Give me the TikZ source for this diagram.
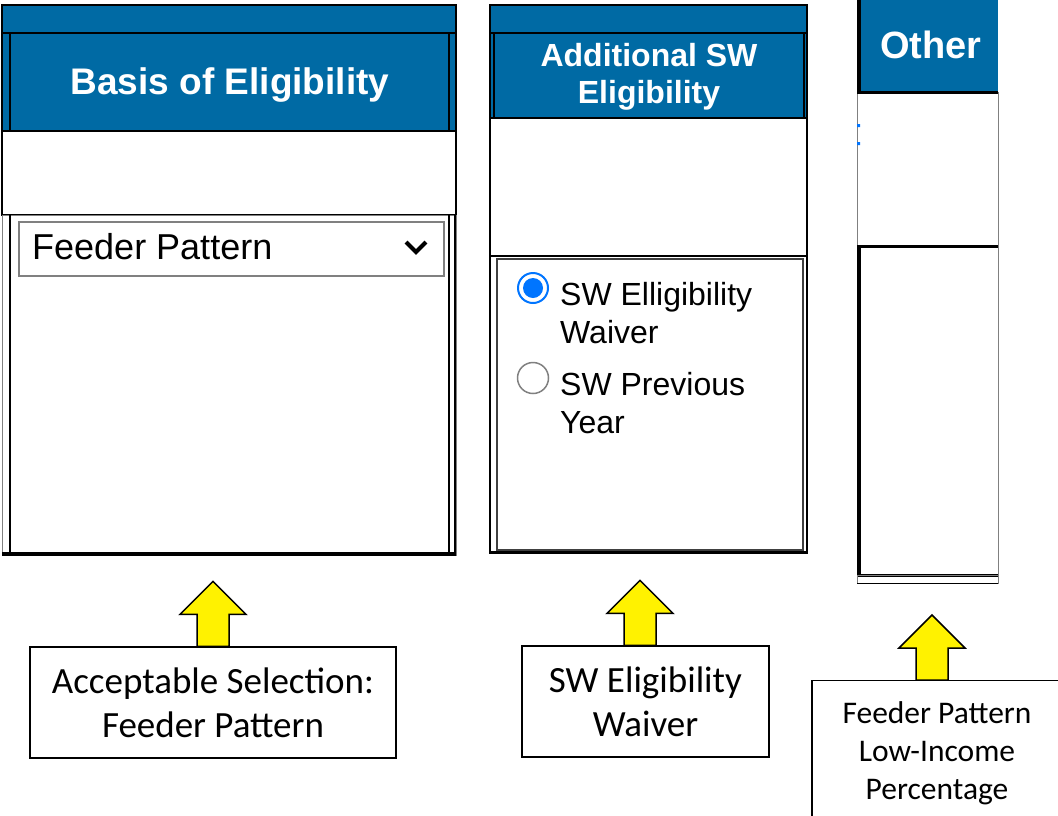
\documentclass[tikz,border=0pt]{standalone}
\usepackage{fontspec}
\setmainfont{Liberation Sans}
\newfontfamily\calibri{Carlito}
\usepackage{tikz}
\usepackage{xcolor}
\definecolor{hdrblue}{RGB}{0,106,164}
\definecolor{radioblue}{RGB}{0,117,255}
\tikzset{
    hdr-cell/.style = {fill=hdrblue, draw=black, line width=2pt},
    body-cell/.style = {fill=white, draw=black, line width=1.5pt},
    hdr-text/.style = {text=white, font=\bfseries\fontsize{37}{40}\selectfont, inner sep=0pt},
    field-text/.style = {font=\fontsize{32}{38}\selectfont, inner sep=0pt, align=left},
    caption-box/.style = {draw, fill=white, line width=1.2pt, inner sep=0pt, align=center, font=\calibri\fontsize{37}{44}\selectfont},
    up-arrow/.pic = {\draw[fill=yellow, draw=black, line width=1.5pt] (0,0) -- (-16,0) -- (-16,-32) -- (-33,-32) -- (0,-65) -- (33,-32) -- (16,-32) -- (16,0) -- cycle;},
}
\begin{document}
\begin{tikzpicture}[x=1pt, y=-1pt]
\useasboundingbox (0,0) rectangle (1058,815);
\clip (0,0) rectangle (1058,815);
\fill[white] (0,0) rectangle (1058,815);

% basis of eligibility column
\draw[hdr-cell] (2,5) rectangle (456,33);
\draw[hdr-cell] (2,33) rectangle (456,131);
\draw[line width=1.5pt] (10,33) -- (10,131) (449,33) -- (449,131);
\draw[body-cell] (2,131) rectangle (456,215);
\draw[body-cell, draw=gray, line width=1pt] (2,215) rectangle (456,555);
\draw[line width=2pt] (10,215) -- (10,553) (449,215) -- (449,553) (455,215) -- (455,553);
\draw[line width=3.5pt] (2,554) -- (456,554);
\node[hdr-text, anchor=base] (basis) at (230,94) {Basis of Eligibility};
\node[draw=gray, line width=2pt, fill=white, anchor=north west, inner sep=0pt, minimum width=425, minimum height=54] (drop) at (18,221) {};
\node[font=\fontsize{36}{40}\selectfont, anchor=base west, inner sep=0pt] (feeder) at (32,259) {Feeder Pattern};
\draw[line width=4pt] (406,242) -- (416,252) -- (426,242);

% additional sw column
\draw[hdr-cell] (490,5) rectangle (807,33);
\draw[hdr-cell] (490,33) rectangle (807,118);
\draw[line width=1.5pt] (494,33) -- (494,118) (804,33) -- (804,118);
\draw[body-cell] (490,118) rectangle (807,256);
\draw[body-cell] (490,256) rectangle (807,553);
\draw[draw=darkgray, line width=1.2pt] (497,259) rectangle (803,550);
\draw[line width=3pt] (490,552) -- (807,552);
\node[hdr-text, font=\bfseries\fontsize{32}{37}\selectfont, align=center] (addl) at (649,77) {Additional SW\\Eligibility};
\node[circle, draw=radioblue, line width=2pt, fill=white, minimum size=30, inner sep=0pt] (rad1) at (533,288) {};
\fill[radioblue] (rad1.center) circle (10);
\node[circle, draw=gray, line width=1.5pt, fill=white, minimum size=31, inner sep=0pt] (rad2) at (533,378) {};
\node[field-text, anchor=north west] (opt1) at (560,282) {SW Elligibility\\Waiver};
\node[field-text, anchor=north west] (opt2) at (560,372) {SW Previous\\Year};

% other column
\fill[hdrblue] (857,0) rectangle (998,92);
\draw[body-cell, draw=gray, line width=1pt] (857,92) rectangle (998,246);
\draw[body-cell, draw=gray, line width=1pt] (857,246) rectangle (998,575);
\draw[line width=4pt] (859,0) -- (859,92) (859,246) -- (859,575);
\draw[line width=3pt] (857,92) -- (998,92) (857,246) -- (998,246) (857,575) -- (998,575);
\draw[draw=gray, line width=1pt] (857,575) rectangle (998,583);
\draw[line width=1pt] (857,583) -- (998,583);
\fill[radioblue] (857,124) rectangle (860,127) (857,142) rectangle (860,145);
\node[hdr-text, font=\bfseries\fontsize{38}{40}\selectfont, anchor=base] (other) at (931,58) {Other};

% captions and arrows
\node[caption-box, minimum width=366, minimum height=111] (cap1) at (213,702.5) {Acceptable Selection:\\Feeder Pattern};
\node[caption-box, minimum width=247, minimum height=111] (cap2) at (645.5,701.5) {SW Eligibility\\Waiver};
\node[caption-box, font=\calibri\fontsize{31.5}{38}\selectfont, minimum width=250, minimum height=145, anchor=north] (cap3) at (937,680) {Feeder Pattern\\Low-Income\\Percentage};
\pic at (cap1.north) {up-arrow};
\pic at ([xshift=-5.5pt]cap2.north) {up-arrow};
\pic at ([xshift=-5pt]cap3.north) {up-arrow};
\end{tikzpicture}
\end{document}
